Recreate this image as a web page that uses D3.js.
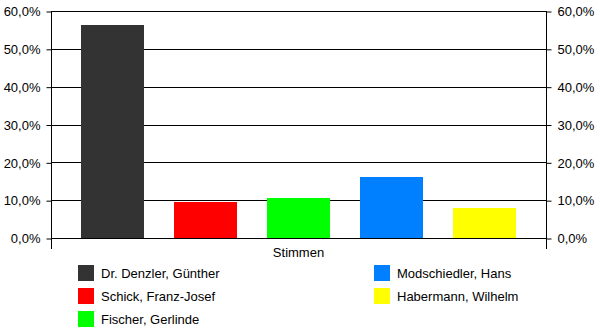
<!DOCTYPE html>
<html>
<head>
<meta charset="utf-8">
<script src="https://cdn.jsdelivr.net/npm/d3@7"></script>
<style>
  html, body { margin: 0; padding: 0; background: #fff; }
  svg { display: block; font-family: Arial, "Liberation Sans", sans-serif; }
</style>
</head>
<body>
<svg id="chart" width="600" height="333"></svg>
<script>
// Stimmenanteile der Kandidaten
const candidates = ["Dr. Denzler, Günther", "Schick, Franz-Josef", "Fischer, Gerlinde", "Modschiedler, Hans", "Habermann, Wilhelm"];
const shares = [56.4, 9.5, 10.7, 16.2, 7.8];
const colors = ["#333333", "#ff0000", "#00ff00", "#0080ff", "#ffff00"];
const tickValues = [0, 10, 20, 30, 40, 50, 60];
const categoryLabel = "Stimmen";

const svg = d3.select("#chart");
const plotLeft = 51, plotRight = 546, plotTop = 11, plotBottom = 238;

const x = d3.scaleBand().domain(candidates).range([plotLeft, plotRight])
  .paddingInner(0.3226).paddingOuter(0.3226);
const y = d3.scaleLinear().domain([0, 60]).range([plotBottom, plotTop]);

const fmt = v => d3.format(".1f")(v).replace(".", ",") + "%";

// horizontal gridlines
svg.append("g").selectAll("line").data(tickValues).join("line")
  .attr("x1", plotLeft).attr("x2", plotRight)
  .attr("y1", d => Math.round(y(d)) + 0.5).attr("y2", d => Math.round(y(d)) + 0.5)
  .attr("stroke", "#000").attr("stroke-width", 1);

// bars
svg.append("g").attr("shape-rendering", "crispEdges")
  .selectAll("rect").data(candidates).join("rect")
  .attr("x", d => Math.round(x(d)))
  .attr("width", Math.round(x.bandwidth()))
  .attr("y", (d, i) => Math.round(y(shares[i])))
  .attr("height", (d, i) => plotBottom - Math.round(y(shares[i])))
  .attr("fill", (d, i) => colors[i]);

// left and right value axes
const axisL = d3.axisLeft(y).tickValues(tickValues).tickFormat(fmt).tickSize(5).tickSizeOuter(0);
const axisR = d3.axisRight(y).tickValues(tickValues).tickFormat(fmt).tickSize(5).tickSizeOuter(0);

function styleAxis(g) {
  g.select(".domain").remove();
  g.selectAll("line").attr("stroke", "#000");
  g.selectAll("text").attr("font-size", 13).attr("fill", "#000")
    .attr("font-family", "Arial, 'Liberation Sans', sans-serif");
}
svg.append("g").attr("transform", `translate(${plotLeft + 0.5},0.5)`).call(axisL).call(styleAxis)
  .selectAll("text").attr("x", -11);
svg.append("g").attr("transform", `translate(${plotRight + 0.5},0.5)`).call(axisR).call(styleAxis)
  .selectAll("text").attr("x", 11);

// vertical axis lines, extending slightly below the baseline
[plotLeft, plotRight].forEach(px => {
  svg.append("line")
    .attr("x1", px + 0.5).attr("x2", px + 0.5)
    .attr("y1", plotTop).attr("y2", plotBottom + 11)
    .attr("stroke", "#000");
});

// category label
svg.append("text")
  .attr("x", (plotLeft + plotRight) / 2).attr("y", 257)
  .attr("text-anchor", "middle").attr("font-size", 13)
  .text(categoryLabel);

// legend, filled column by column (3 rows)
const legendCols = [78, 374];
const legendRows = [273, 296, 319];
const legend = svg.append("g").selectAll("g").data(candidates).join("g")
  .attr("transform", (d, i) => `translate(${legendCols[Math.floor(i / 3)]},${legendRows[i % 3]})`);
legend.append("rect")
  .attr("x", 0).attr("y", -8).attr("width", 16).attr("height", 16)
  .attr("fill", (d, i) => colors[i]);
legend.append("text")
  .attr("x", 23).attr("y", 5).attr("font-size", 13)
  .text(d => d);
</script>
</body>
</html>
